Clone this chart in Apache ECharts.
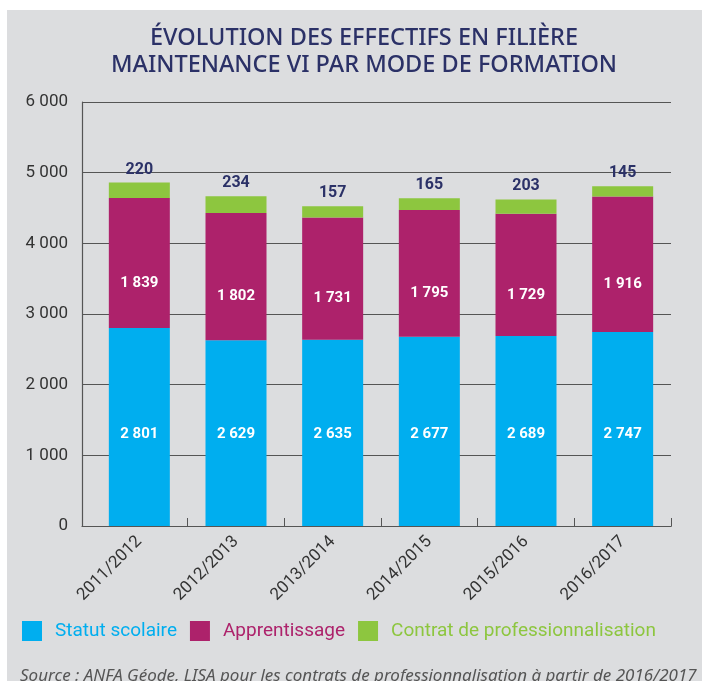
<!DOCTYPE html>
<html><head><meta charset="utf-8">
<script src="https://cdn.jsdelivr.net/npm/echarts@6/dist/echarts.min.js"></script>
<style>html,body{margin:0;padding:0;background:#fff}#c{width:702px;height:681px}</style>
</head><body><div id="c"></div>
<script>
const categories = ['2011/2012','2012/2013','2013/2014','2014/2015','2015/2016','2016/2017'];
const statutScolaire = [2801, 2629, 2635, 2677, 2689, 2747];
const apprentissage = [1839, 1802, 1731, 1795, 1729, 1916];
const contratPro = [220, 234, 157, 165, 203, 145];
const yTicks = [0, 1000, 2000, 3000, 4000, 5000, 6000];

const fmt = v => String(v).replace(/\B(?=(\d{3})+(?!\d))/g, ' ');
const cond = "'Liberation Sans Narrow', 'Roboto', sans-serif";
const yMin = yTicks[0], yMax = yTicks[yTicks.length-1];
const chart = echarts.init(document.getElementById('c'));
chart.setOption({
  backgroundColor: '#ffffff',
  animation: false,
  graphic: [
    {type:'rect', z:-100, shape:{x:7,y:10,width:700,height:680}, style:{fill:'#DCDDDF'}},
    {type:'text', z:10, left:20, top:668, style:{text:'Source : ANFA Géode, LISA pour les contrats de professionnalisation à partir de 2016/2017', font:"italic 17px 'Noto Sans', sans-serif", fill:'#555'}}
  ],
  title: {
    text: 'ÉVOLUTION DES EFFECTIFS EN FILIÈRE\nMAINTENANCE VI PAR MODE DE FORMATION',
    left: 359, textAlign: 'center', top: 20,
    textStyle: {color:'#2B3167', fontSize:23.5, fontWeight:500, fontFamily:"'Noto Sans', sans-serif", lineHeight:27}
  },
  legend: {
    left: 17, top: 616, itemWidth: 20, itemHeight: 20, itemGap: 13,
    icon: 'rect',
    textStyle: {fontSize:19, fontFamily:cond, padding:[0,0,0,8]},
    data: [
      {name:'Statut scolaire', textStyle:{color:'#00AEEF'}},
      {name:'Apprentissage', textStyle:{color:'#AD226B'}},
      {name:'Contrat de professionnalisation', textStyle:{color:'#8DC63F'}}
    ]
  },
  grid: [
    {left:91, right:31, top:102, bottom:155},
    {left:82, right:31, top:102, bottom:155}
  ],
  xAxis: [
    {type:'category', data:categories, gridIndex:0,
     axisLine:{lineStyle:{color:'#555', width:1.2}},
     axisTick:{show:true, inside:true, length:8, lineStyle:{color:'#555'}, interval: i => i > 0},
     axisLabel:{rotate:45, fontSize:17, color:'#333', fontFamily:cond, margin:13}},
    {type:'value', gridIndex:1, min:0, max:1, show:true,
     axisLine:{show:true, lineStyle:{color:'#555', width:1.2}},
     axisTick:{show:false}, axisLabel:{show:false}, splitLine:{show:false}}
  ],
  yAxis: [
    {type:'value', gridIndex:0, min:yMin, max:yMax, interval:1000, show:false},
    {type:'value', gridIndex:1, min:yMin, max:yMax, interval:1000,
     axisLine:{show:true, lineStyle:{color:'#555', width:1.2}},
     axisTick:{show:false},
     splitLine:{lineStyle:{color:'#555', width:1.2}},
     axisLabel:{fontSize:17, color:'#333', fontFamily:cond, margin:14, formatter: v => fmt(v)}}
  ],
  series: [
    {name:'Statut scolaire', type:'bar', stack:'t', data:statutScolaire, barWidth:61,
     itemStyle:{color:'#00AEEF'},
     label:{show:true, position:'insideBottom', distance:84, color:'#fff', fontWeight:'bold', fontSize:15, fontFamily:"'Roboto', sans-serif", formatter:p=>fmt(p.value)}},
    {name:'Apprentissage', type:'bar', stack:'t', data:apprentissage,
     itemStyle:{color:'#AD226B'},
     label:{show:true, position:'inside', offset:[0,20], color:'#fff', fontWeight:'bold', fontSize:15, fontFamily:"'Roboto', sans-serif", formatter:p=>fmt(p.value)}},
    {name:'Contrat de professionnalisation', type:'bar', stack:'t', data:contratPro,
     itemStyle:{color:'#8DC63F'},
     label:{show:true, position:'top', distance:5, color:'#2B3167', fontWeight:'bold', fontSize:16, fontFamily:"'Roboto', sans-serif", formatter:p=>fmt(p.value)}}
  ]
});
</script></body></html>
